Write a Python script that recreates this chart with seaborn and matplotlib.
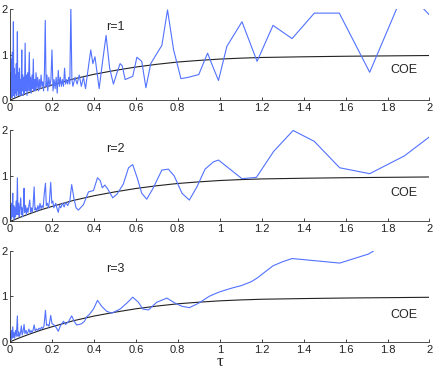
import matplotlib
matplotlib.use("Agg")
import matplotlib.pyplot as plt
import seaborn as sns

# tau grid + form factor values, one panel per r
tau_r1 = [0.000, 0.003, 0.005, 0.007, 0.009, 0.011, 0.013, 0.016, 0.018, 0.020,
          0.022, 0.025, 0.027, 0.030, 0.032, 0.035, 0.037, 0.040, 0.042, 0.045,
          0.048, 0.050, 0.053, 0.056, 0.058, 0.061, 0.064, 0.067, 0.069, 0.072,
          0.075, 0.078, 0.081, 0.084, 0.087, 0.092, 0.095, 0.098, 0.101, 0.105,
          0.108, 0.111, 0.114, 0.118, 0.121, 0.124, 0.128, 0.132, 0.136, 0.140,
          0.144, 0.148, 0.152, 0.156, 0.160, 0.164, 0.168, 0.172, 0.176, 0.180,
          0.185, 0.190, 0.195, 0.200, 0.205, 0.210, 0.215, 0.220, 0.225, 0.230,
          0.235, 0.240, 0.245, 0.250, 0.255, 0.260, 0.265, 0.270, 0.275, 0.280,
          0.285, 0.290, 0.295, 0.300, 0.310, 0.320, 0.330, 0.340, 0.350, 0.360,
          0.370, 0.385, 0.395, 0.405, 0.425, 0.440, 0.458, 0.475, 0.493, 0.510,
          0.525, 0.535, 0.549, 0.585, 0.605, 0.628, 0.648, 0.671, 0.697, 0.724,
          0.751, 0.780, 0.815, 0.851, 0.900, 0.942, 0.970, 0.994, 1.034, 1.106,
          1.178, 1.254, 1.345, 1.451, 1.570, 1.715, 1.843, 1.900, 1.973, 2.000]
val_r1 = [0.05, 0.60, 0.10, 0.90, 0.05, 1.05, 0.20, 1.72, 0.10, 0.70,
          0.05, 0.55, 0.15, 0.80, 0.10, 1.50, 0.20, 0.60, 0.10, 0.70,
          0.15, 0.45, 0.10, 1.10, 0.20, 0.55, 0.10, 0.50, 0.15, 1.25,
          0.20, 0.55, 0.10, 0.60, 0.20, 1.05, 0.20, 0.50, 0.15, 0.55,
          0.25, 0.90, 0.20, 0.45, 0.20, 0.60, 0.25, 0.50, 0.20, 0.45,
          0.25, 0.55, 0.30, 0.40, 0.20, 0.60, 1.75, 0.30, 0.55, 0.20,
          0.50, 0.30, 0.45, 1.10, 0.20, 0.45, 0.25, 0.50, 0.15, 0.65,
          0.30, 0.50, 0.30, 0.45, 0.30, 0.70, 0.35, 0.45, 0.35, 0.50,
          0.35, 2.05, 0.45, 0.30, 0.50, 0.35, 0.55, 0.30, 0.50, 0.25,
          0.60, 1.10, 0.80, 0.95, 0.25, 0.80, 1.42, 0.70, 0.35, 0.60,
          0.80, 0.75, 0.45, 0.52, 0.94, 0.85, 0.27, 0.80, 1.00, 1.20,
          1.98, 1.10, 0.47, 0.50, 0.56, 1.03, 0.70, 0.43, 1.18, 1.72,
          0.85, 1.64, 1.35, 1.91, 1.91, 0.61, 2.00, 2.30, 2.00, 1.87]

tau_r2 = [0.000, 0.003, 0.005, 0.008, 0.010, 0.013, 0.015, 0.018, 0.020, 0.023,
          0.026, 0.029, 0.032, 0.035, 0.038, 0.041, 0.044, 0.047, 0.051, 0.054,
          0.057, 0.060, 0.064, 0.067, 0.070, 0.074, 0.078, 0.082, 0.086, 0.090,
          0.094, 0.098, 0.102, 0.106, 0.110, 0.115, 0.119, 0.123, 0.128, 0.133,
          0.138, 0.143, 0.148, 0.153, 0.158, 0.163, 0.169, 0.173, 0.178, 0.183,
          0.188, 0.194, 0.199, 0.204, 0.209, 0.213, 0.218, 0.223, 0.230, 0.236,
          0.242, 0.250, 0.258, 0.266, 0.275, 0.285, 0.294, 0.305, 0.315, 0.326,
          0.350, 0.374, 0.398, 0.417, 0.430, 0.440, 0.452, 0.465, 0.490, 0.510,
          0.540, 0.565, 0.585, 0.607, 0.628, 0.652, 0.681, 0.724, 0.755, 0.783,
          0.820, 0.855, 0.891, 0.930, 0.970, 0.994, 1.106, 1.175, 1.257, 1.350,
          1.451, 1.572, 1.715, 1.880, 2.000]
val_r2 = [0.05, 0.35, 0.05, 0.40, 0.10, 0.62, 0.10, 0.35, 0.05, 0.30,
          0.10, 0.45, 0.15, 0.96, 0.15, 0.40, 0.10, 0.30, 0.52, 0.15,
          0.30, 0.10, 0.35, 0.73, 0.20, 0.35, 0.15, 0.30, 0.20, 0.35,
          0.47, 0.20, 0.30, 0.20, 0.35, 0.76, 0.25, 0.30, 0.22, 0.35,
          0.25, 0.40, 0.28, 0.35, 0.30, 0.60, 0.84, 0.35, 0.40, 0.30,
          0.45, 0.86, 0.40, 0.45, 0.30, 0.35, 0.40, 0.30, 0.20, 0.35,
          0.30, 0.40, 0.32, 0.42, 0.35, 0.45, 0.81, 0.50, 0.30, 0.25,
          0.37, 0.65, 0.68, 0.96, 0.90, 0.74, 0.80, 0.72, 0.52, 0.60,
          0.82, 1.18, 1.25, 0.95, 0.62, 0.49, 0.72, 1.13, 1.15, 1.00,
          0.62, 0.47, 0.76, 1.15, 1.31, 1.35, 0.94, 0.97, 1.54, 2.00,
          1.76, 1.18, 1.05, 1.44, 1.86]

tau_r3 = [0.000, 0.003, 0.005, 0.008, 0.010, 0.013, 0.016, 0.019, 0.022, 0.026,
          0.030, 0.035, 0.038, 0.042, 0.046, 0.050, 0.054, 0.058, 0.062, 0.067,
          0.071, 0.076, 0.081, 0.086, 0.090, 0.095, 0.100, 0.105, 0.110, 0.115,
          0.120, 0.126, 0.132, 0.138, 0.144, 0.150, 0.156, 0.162, 0.169, 0.174,
          0.180, 0.186, 0.194, 0.200, 0.207, 0.214, 0.222, 0.230, 0.240, 0.255,
          0.265, 0.280, 0.294, 0.306, 0.318, 0.330, 0.342, 0.355, 0.366, 0.378,
          0.398, 0.417, 0.437, 0.461, 0.485, 0.525, 0.557, 0.585, 0.612, 0.633,
          0.660, 0.700, 0.748, 0.787, 0.820, 0.855, 0.900, 0.950, 0.995, 1.050,
          1.106, 1.150, 1.178, 1.220, 1.254, 1.300, 1.345, 1.572, 1.710, 1.735]
val_r3 = [0.05, 0.20, 0.05, 0.25, 0.08, 0.33, 0.10, 0.20, 0.08, 0.25,
          0.12, 0.57, 0.12, 0.22, 0.12, 0.20, 0.35, 0.15, 0.22, 0.38,
          0.18, 0.25, 0.17, 0.22, 0.28, 0.20, 0.25, 0.20, 0.26, 0.37,
          0.24, 0.28, 0.25, 0.30, 0.27, 0.32, 0.29, 0.35, 0.69, 0.36,
          0.38, 0.34, 0.58, 0.40, 0.38, 0.35, 0.30, 0.23, 0.35, 0.45,
          0.38, 0.45, 0.57, 0.45, 0.37, 0.38, 0.40, 0.45, 0.55, 0.60,
          0.72, 0.91, 0.78, 0.67, 0.63, 0.72, 0.85, 0.98, 0.87, 0.72,
          0.70, 0.87, 0.96, 0.85, 0.78, 0.75, 0.85, 1.00, 1.09, 1.17,
          1.24, 1.32, 1.40, 1.55, 1.67, 1.76, 1.83, 1.73, 1.93, 2.00]

# COE reference curve
tau_coe = [0.0, 0.05, 0.1, 0.15, 0.2, 0.3, 0.4, 0.5, 0.6, 0.7,
           0.8, 0.9, 1.0, 1.1, 1.2, 1.4, 1.6, 1.8, 2.0]
val_coe = [0.0, 0.095, 0.18, 0.26, 0.33, 0.46, 0.565, 0.65, 0.725, 0.785,
           0.835, 0.87, 0.90, 0.92, 0.935, 0.95, 0.962, 0.97, 0.978]

labels = ["r=1", "r=2", "r=3"]
series = [(tau_r1, val_r1), (tau_r2, val_r2), (tau_r3, val_r3)]
coe_y = [0.67, 0.63, 0.58]
xticks = [0, 0.2, 0.4, 0.6, 0.8, 1, 1.2, 1.4, 1.6, 1.8, 2]
xticklabels = ["0", "0.2", "0.4", "0.6", "0.8", "1", "1.2", "1.4", "1.6", "1.8", "2"]

sns.set_style("ticks")
plt.rcParams["font.family"] = ["Liberation Sans", "DejaVu Sans"]

fig = plt.figure(figsize=(4.36, 3.76), dpi=100)
bottoms = [0.734, 0.411, 0.091]
blue = "#5272ff"

for i, (tx, vy) in enumerate(series):
    ax = fig.add_axes([0.023, bottoms[i], 0.962, 0.242])
    sns.lineplot(x=tau_coe, y=val_coe, ax=ax, color="#222222", linewidth=0.8,
                 estimator=None, sort=False)
    sns.lineplot(x=tx, y=vy, ax=ax, color=blue, linewidth=0.8,
                 estimator=None, sort=False)
    ax.set_xlim(0, 2)
    ax.set_ylim(0, 2)
    ax.set_xticks(xticks)
    ax.set_xticklabels(xticklabels)
    ax.set_yticks([0, 1, 2])
    ax.set_yticklabels(["0", "1", "2"])
    ax.spines[["top", "right"]].set_visible(False)
    for s in ["left", "bottom"]:
        ax.spines[s].set_linewidth(0.6)
        ax.spines[s].set_color("#333333")
    ax.tick_params(direction="in", length=2.5, width=0.6, labelsize=8,
                   pad=2, colors="#222222")
    ax.set_xlabel("")
    ax.set_ylabel("")
    ax.text(0.50, 1.6, labels[i], fontsize=9, ha="center", va="center")
    ax.text(1.88, coe_y[i], "COE", fontsize=9, ha="center", va="center")

fig.text(0.505, 0.037, "τ", fontsize=12, ha="center", va="center",
         family=["Liberation Serif", "DejaVu Serif"])

fig.savefig("out.png", dpi=100)
